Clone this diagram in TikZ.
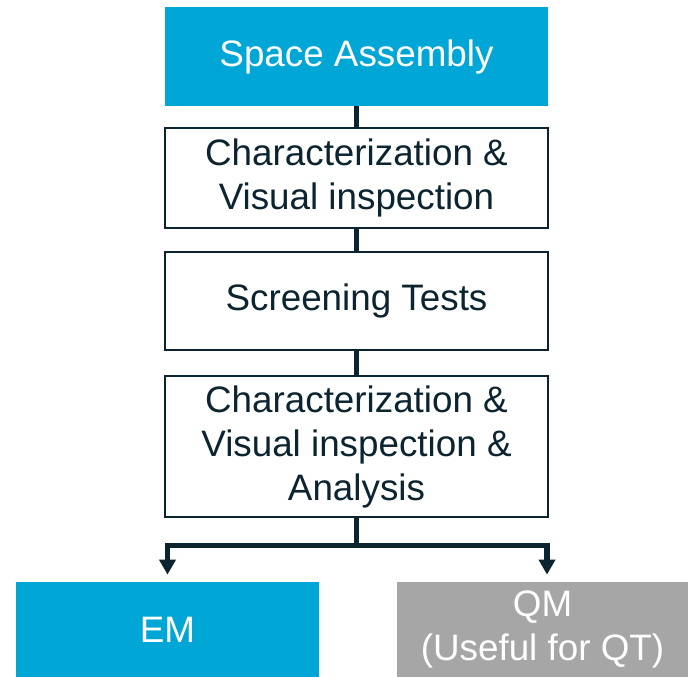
\documentclass[tikz,border=0pt]{standalone}
\usepackage{fontspec}
\setmainfont{Liberation Sans}
\usepackage{tikz}
\usetikzlibrary{positioning, arrows.meta}

\definecolor{tublue}{HTML}{00A6D6}
\definecolor{qmgray}{HTML}{A6A6A6}
\definecolor{inkdark}{HTML}{0C2330}

\begin{document}
\begin{tikzpicture}[
  x=0.5pt, y=-0.5pt,
  flowbox/.style={draw=inkdark, line width=1pt, rectangle, minimum width=191.5pt,
    align=center, text=inkdark, font=\fontsize{18.4}{22}\selectfont},
  endbox/.style={rectangle, minimum height=47.5pt, align=center, text=white,
    font=\fontsize{18.4}{22}\selectfont},
  link/.style={draw=inkdark, line width=2.6pt},
  arrow/.style={link, -{Triangle[width=8pt, length=7.5pt]}, shorten >=3.5pt}
]
\useasboundingbox (0,0) rectangle (688,677);

% Process chain
\node[endbox, fill=tublue, minimum width=191.5pt, minimum height=49.5pt] (sa) at (356.5,56.5) {Space Assembly};
\node[flowbox, minimum height=50pt, below=10.5pt of sa] (char1) {Characterization \&\\Visual inspection};
\node[flowbox, minimum height=49pt, below=11pt of char1] (screen) {Screening Tests};
\node[flowbox, minimum height=70.5pt, below=12pt of screen] (char2) {Characterization \&\\Visual inspection \&\\Analysis};

% Outcomes
\node[endbox, fill=tublue, minimum width=151.5pt] (em) at (167.5,629.5) {EM};
\node[endbox, fill=qmgray, minimum width=145.5pt] (qm) at (542.5,629.5) {QM\\(Useful for QT)};

% Connectors
\draw[link] (sa.south) -- (char1.north);
\draw[link] (char1.south) -- (screen.north);
\draw[link] (screen.south) -- (char2.north);

% Split to EM and QM
\coordinate (split) at ([yshift=-13.5pt]char2.south);
\coordinate (qmin) at ([xshift=2.25pt]qm.north);
\draw[link] (char2.south) -- (split);
\draw[arrow] (split) -| (em.north);
\draw[arrow] (split) -| (qmin);

\end{tikzpicture}
\end{document}
